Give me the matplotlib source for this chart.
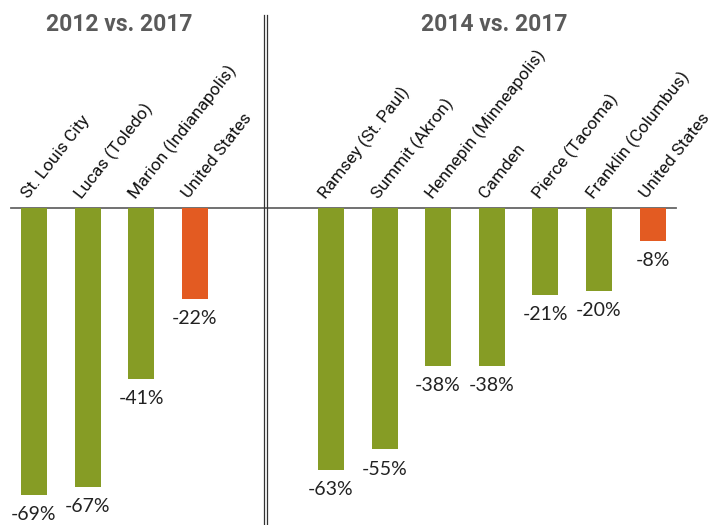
import matplotlib
matplotlib.use("Agg")
import matplotlib.pyplot as plt

# Data
left_counties = ["St. Louis City", "Lucas (Toledo)", "Marion (Indianapolis)", "United States"]
left_values = [-69, -67, -41, -22]
left_labels = ["-69%", "-67%", "-41%", "-22%"]

right_counties = ["Ramsey (St. Paul)", "Summit (Akron)", "Hennepin (Minneapolis)", "Camden",
                  "Pierce (Tacoma)", "Franklin (Columbus)", "United States"]
right_values = [-63, -58, -38, -38, -21, -20, -8]
right_labels = ["-63%", "-55%", "-38%", "-38%", "-21%", "-20%", "-8%"]

titles = ["2012 vs. 2017", "2014 vs. 2017"]

GREEN = "#869c25"
ORANGE = "#e35b22"

left_x = [i for i in range(len(left_values))]
right_x = [5.54 + i for i in range(len(right_values))]

fig = plt.figure(figsize=(7.12, 5.25), dpi=100)
ax = fig.add_axes([0, 0, 1, 1])
ax.set_xlim(-0.634, 12.65)
ax.set_ylim(-76.1, 49.76)
ax.axis("off")

# baseline, drawn first so bars sit on top
ax.plot([-0.43, 11.98], [0, 0], color="#666666", lw=1.3, zorder=1)

for xs, vals, labs, names in [(left_x, left_values, left_labels, left_counties),
                              (right_x, right_values, right_labels, right_counties)]:
    colors = [ORANGE if n == "United States" else GREEN for n in names]
    ax.bar(xs, vals, width=0.485, color=colors, zorder=2)
    for x, v, lab, name in zip(xs, vals, labs, names):
        ax.annotate(lab, (x, v), xytext=(0, -8), textcoords="offset points",
                    ha="center", va="top", fontsize=14, family="Lato", color="#222222")
        ax.text(x - 0.1, 2.0, name, rotation=52, rotation_mode="anchor",
                ha="left", va="baseline", fontsize=12.5, family="Roboto", color="#111111")

# double divider line
for dx in [4.295, 4.34]:
    ax.plot([dx, dx], [-80, 46.2], color="#333333", lw=0.9, zorder=3)

ax.text(1.6, 43.8, titles[0], ha="center", va="center", fontsize=16.5,
        family="Roboto", fontweight="bold", color="#5a5a5a")
ax.text(8.58, 43.8, titles[1], ha="center", va="center", fontsize=16.5,
        family="Roboto", fontweight="bold", color="#5a5a5a")

fig.savefig("out.png", dpi=100)
